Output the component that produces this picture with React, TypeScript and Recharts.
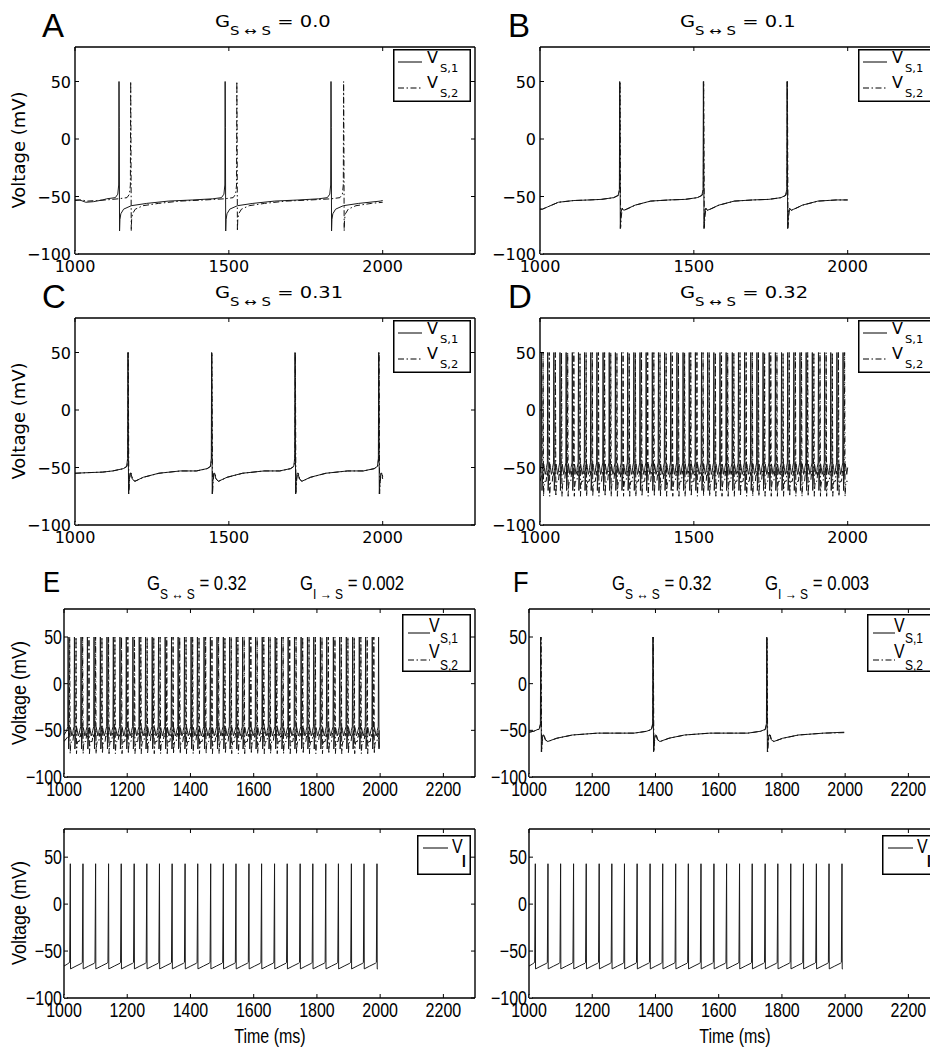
import React from 'react';
import { LineChart, Line, XAxis, YAxis, Legend } from 'recharts';

type P = [number, number];

// ---- values (time in ms, voltage in mV) ----
const xTicksWide = [1000, 1500, 2000];
const xTicksNarrow = [1000, 1200, 1400, 1600, 1800, 2000, 2200];
const yTicks = [-100, -50, 0, 50];

// A: G(S<->S) = 0.0 -- the two cells fire out of phase
const aSpikes1 = [1143, 1488, 1832];
const aSpikes2 = [1181, 1526, 1873];
const aLead1: P[] = [[1000, -53], [1015, -53], [1035, -55], [1060, -54.5], [1090, -53]];
const aLead2: P[] = [[1000, -53.5], [1020, -53], [1040, -54], [1070, -53.5], [1100, -53]];
const aShape: P[] = [[-40, -52], [-12, -51], [-4, -48], [-1, -40], [0, 50], [0.8, 10], [1.8, -80], [3, -70], [6, -65], [15, -61], [40, -58], [90, -56], [160, -54], [240, -53]];

// B: G(S<->S) = 0.1
const bSpikes1 = [1259, 1531, 1803];
const bSpikes2 = [1260, 1532, 1804];
const bLead: P[] = [[1000, -61], [1008, -61], [1025, -59], [1060, -55], [1110, -53.5], [1160, -53]];
const bShape1: P[] = [[-60, -52.5], [-20, -51], [-5, -49], [-1, -44], [0, 50], [0.8, 10], [2, -78], [4, -64], [8, -60], [13, -62], [22, -61], [50, -57.5], [100, -54], [160, -53]];
const bShape2: P[] = [[-60, -52.5], [-20, -51], [-5, -49], [-1, -44], [0, 50], [0.8, 10], [2, -77], [4, -68], [7, -61], [13, -62], [22, -61], [50, -57.5], [100, -54], [160, -53]];

// C: G(S<->S) = 0.31
const cSpikes1 = [1172, 1444, 1715, 1987];
const cSpikes2 = [1173, 1445, 1716, 1988];
const cLead: P[] = [[1000, -55], [1040, -54.5], [1090, -54]];
const cShape: P[] = [[-50, -53], [-15, -51], [-4, -49], [-1, -42], [0, 50], [0.8, 10], [2, -73], [4, -62], [7, -55], [10, -55], [14, -60], [22, -62], [50, -58.5], [100, -55], [170, -53]];

// D: G(S<->S) = 0.32 -- fast alternating firing
const dSpikes1 = [1005, 1025, 1045, 1065, 1085, 1105, 1125, 1145, 1165, 1185, 1205, 1225, 1245, 1265, 1285, 1305, 1325, 1345, 1365, 1385, 1405, 1425, 1445, 1465, 1485, 1505, 1525, 1545, 1565, 1585, 1605, 1625, 1645, 1665, 1685, 1705, 1725, 1745, 1765, 1785, 1805, 1825, 1845, 1865, 1885, 1905, 1925, 1945, 1965, 1985];
const dSpikes2 = [1010, 1030, 1050, 1070, 1090, 1110, 1130, 1150, 1170, 1190, 1210, 1230, 1250, 1270, 1290, 1310, 1330, 1350, 1370, 1390, 1410, 1430, 1450, 1470, 1490, 1510, 1530, 1550, 1570, 1590, 1610, 1630, 1650, 1670, 1690, 1710, 1730, 1750, 1770, 1790, 1810, 1830, 1850, 1870, 1890, 1910, 1930, 1950, 1970, 1990];
const fastShape1: P[] = [[-4, -50], [-1, -46], [0, 50], [0.7, 0], [1.4, -70], [3, -60], [5, -52], [7, -47], [9, -50], [12, -56], [15, -53]];
const fastShape2: P[] = [[-4, -56], [-1, -49], [0, 50], [0.7, 0], [1.5, -75], [3, -66], [5, -62], [10, -62], [13, -53], [15, -57]];

// E: G(S<->S) = 0.32, G(I->S) = 0.002
const eSpikes1 = [1013, 1033, 1054, 1074, 1095, 1115, 1136, 1156, 1177, 1197, 1218, 1238, 1258, 1279, 1299, 1320, 1340, 1361, 1381, 1402, 1422, 1443, 1463, 1484, 1504, 1524, 1545, 1565, 1586, 1606, 1627, 1647, 1668, 1688, 1709, 1729, 1750, 1770, 1790, 1811, 1831, 1852, 1872, 1893, 1913, 1934, 1954, 1975, 1995];
const eSpikes2 = [1018, 1038, 1059, 1079, 1100, 1120, 1141, 1161, 1182, 1202, 1223, 1243, 1263, 1284, 1304, 1325, 1345, 1366, 1386, 1407, 1427, 1448, 1468, 1489, 1509, 1529, 1550, 1570, 1591, 1611, 1632, 1652, 1673, 1693, 1714, 1734, 1755, 1775, 1795, 1816, 1836, 1857, 1877, 1898, 1918, 1939, 1959, 1980];

// F: G(S<->S) = 0.32, G(I->S) = 0.003
const fSpikes1 = [1037, 1392, 1752];
const fSpikes2 = [1038, 1393, 1753];
const fLead: P[] = [[1000, -52], [1015, -51], [1028, -49]];
const fShape: P[] = [[-60, -53], [-20, -51], [-5, -49], [-1, -43], [0, 50], [0.8, 10], [2, -73], [4, -62], [7, -55], [10, -55], [14, -60], [22, -62], [50, -58.5], [100, -55], [180, -53]];

// interneuron V_I (same in E and F)
const iSpikes = [1020, 1060, 1100, 1141, 1181, 1222, 1262, 1302, 1342, 1383, 1423, 1464, 1504, 1544, 1585, 1625, 1666, 1706, 1747, 1787, 1828, 1868, 1909, 1949, 1990];
const iLead: P[] = [[1000, -66], [1010, -64]];
const iShape: P[] = [[-2, -62], [0, 43], [0.7, -69], [18, -66], [36, -63]];

const legendS = ['S,1', 'S,2'];
const legendI = ['I'];

// ---- helpers ----
function trace(lead: P[], spikes: number[], shape: P[], end: P) {
  const pts: P[] = [...lead];
  spikes.forEach((s) => {
    shape.forEach(([dt, v]) => {
      const t = s + dt;
      if (t > pts[pts.length - 1][0] && t < end[0]) pts.push([t, v]);
    });
  });
  pts.push(end);
  return pts.map(([t, v]) => ({ t, v }));
}

const DASHDOT = '6 2.5 1.5 2.5';
const WIDE = { fontFamily: "'DejaVu Sans', sans-serif", fontSize: 16 };
const NARROW = { fontFamily: "'Liberation Sans', Arial, sans-serif", fontSize: 20 };
const NX = 0.8; // horizontal squeeze for the condensed lettering in E/F
const fmt = (v: number) => (v < 0 ? '\u2212' + Math.abs(v) : String(v));

const BottomTick = ({ x, y, payload, narrow }: any) => (
  <g>
    <line x1={x} y1={y} x2={x} y2={y - 4} stroke="#000" />
    <text transform={`translate(${x},${y + (narrow ? 19 : 18)}) scale(${narrow ? NX : 1},1)`} textAnchor="middle" fill="#000" {...(narrow ? NARROW : WIDE)}>
      {fmt(payload.value)}
    </text>
  </g>
);
const LeftTick = ({ x, y, payload, narrow }: any) => (
  <g>
    <line x1={x} y1={y} x2={x + 4} y2={y} stroke="#000" />
    <text transform={`translate(${x - (narrow ? 2 : 4)},${y + (narrow ? 7 : 6)}) scale(${narrow ? NX : 1},1)`} textAnchor="end" fill="#000" {...(narrow ? NARROW : WIDE)}>
      {fmt(payload.value)}
    </text>
  </g>
);
const TopTick = ({ x, y }: any) => <line x1={x} y1={y} x2={x} y2={y + 4} stroke="#000" />;
const RightTick = ({ x, y }: any) => <line x1={x} y1={y} x2={x - 4} y2={y} stroke="#000" />;

const AXIS = { stroke: '#000', strokeWidth: 1.4 };

function LegendBox({ labels, narrow, w, h }: { labels: string[]; narrow?: boolean; w: number; h: number }) {
  const single = labels.length === 1;
  return (
    <svg width={w} height={h} style={{ display: 'block' }}>
      <rect x={0.75} y={0.75} width={w - 1.5} height={h - 1.5} fill="#fff" stroke="#000" strokeWidth={1.5} />
      {labels.map((s, i) => {
        if (!narrow) {
          return (
            <g key={s}>
              <line x1={5} x2={29} y1={13 + 26 * i} y2={13 + 26 * i} stroke="#000" strokeDasharray={i ? DASHDOT : undefined} />
              <text x={34} y={14 + 25 * i} fontFamily="'DejaVu Sans', sans-serif" fontSize={16}>V</text>
              <text transform={`translate(47,${23 + 25 * i}) scale(1.05,1)`} fontFamily="'DejaVu Sans', sans-serif" fontSize={11}>{s}</text>
            </g>
          );
        }
        if (single) {
          return (
            <g key={s}>
              <line x1={6} x2={31} y1={13} y2={13} stroke="#000" />
              <text transform={`translate(35,18) scale(${NX},1)`} {...NARROW}>V</text>
              <text transform={`translate(45,32) scale(${NX},1)`} {...NARROW} fontSize={17} fontWeight="bold">{s}</text>
            </g>
          );
        }
        return (
          <g key={s}>
            <line x1={6} x2={28} y1={19 + 27 * i} y2={19 + 27 * i} stroke="#000" strokeDasharray={i ? DASHDOT : undefined} />
            <text transform={`translate(27,${18 + 26 * i}) scale(${NX},1)`} {...NARROW}>V</text>
            <text transform={`translate(38,${29 + 27 * i}) scale(${NX},1)`} {...NARROW} fontSize={15}>{s}</text>
          </g>
        );
      })}
    </svg>
  );
}

type Series = { data: { t: number; v: number }[]; dash?: boolean };

interface PanelProps {
  x: number;
  y: number;
  w: number;
  h: number;
  xTicks: number[];
  narrow?: boolean;
  lines: Series[];
  labels: string[];
  lx: number;
  ly: number;
  lw: number;
  lh: number;
}

const YW = 70;
const MT = 10;
const XH = 30;

function Panel({ x, y, w, h, xTicks, narrow, lines, labels, lx, ly, lw, lh }: PanelProps) {
  const left = x - YW;
  const top = y - MT;
  // the top x axis and right y axis are 1px wide so Recharts still draws them (box frame + inward ticks)
  return (
    <div style={{ position: 'absolute', left, top }}>
      <LineChart width={YW + w + 1} height={MT + h + XH} margin={{ top: MT - 1, right: 0, bottom: 0, left: 0 }}>
        <XAxis xAxisId="b" dataKey="t" type="number" domain={[1000, 2300]} allowDataOverflow ticks={xTicks} interval={0}
          tickSize={0} tickMargin={0} tickLine={false} height={XH} axisLine={AXIS}
          tick={(p: any) => <BottomTick {...p} narrow={narrow} />} />
        <XAxis xAxisId="t" orientation="top" dataKey="t" type="number" domain={[1000, 2300]} allowDataOverflow ticks={xTicks} interval={0}
          tickSize={0} tickMargin={0} tickLine={false} height={1} axisLine={AXIS} tick={TopTick} />
        <YAxis yAxisId="l" type="number" domain={[-100, 80]} allowDataOverflow ticks={yTicks} interval={0}
          tickSize={0} tickMargin={0} tickLine={false} width={YW} axisLine={AXIS}
          tick={(p: any) => <LeftTick {...p} narrow={narrow} />} />
        <YAxis yAxisId="r" orientation="right" type="number" domain={[-100, 80]} allowDataOverflow ticks={yTicks} interval={0}
          tickSize={0} tickMargin={0} tickLine={false} width={1} axisLine={AXIS} tick={RightTick} />
        {lines.map((l, i) => (
          <Line key={i} xAxisId="b" yAxisId="l" data={l.data} dataKey="v" type="linear" dot={false}
            stroke={l.dash ? '#111' : '#1a1a1a'} strokeWidth={1} strokeDasharray={l.dash ? DASHDOT : undefined}
            isAnimationActive={false} />
        ))}
        <Line xAxisId="t" yAxisId="r" data={[{ t: 1000, v: -100 }]} dataKey="v" stroke="none" dot={false}
          legendType="none" isAnimationActive={false} />
        <Legend layout="vertical" align="center" verticalAlign="middle"
          content={() => <LegendBox labels={labels} narrow={narrow} w={lw} h={lh} />}
          wrapperStyle={{ left: lx - left, top: ly - top, width: lw, height: lh }} />
      </LineChart>
    </div>
  );
}

const font = (narrow?: boolean, size = 20) =>
  narrow ? { fontFamily: NARROW.fontFamily, fontSize: size } : { fontFamily: WIDE.fontFamily, fontSize: size };

function Title({ x, y, g, sub, val, narrow }: { x: number; y: number; g: string; sub: string; val: string; narrow?: boolean }) {
  const sx = narrow ? NX : 1.3;
  const big = narrow ? 21 : 15;
  const small = narrow ? 15 : 11.5;
  const dy = narrow ? 9 : 8;
  return (
    <text transform={`translate(${x},${y}) scale(${sx},1)`} {...font(narrow, big)} fill="#000">
      {g}
      <tspan dy={dy} fontSize={small}>{sub}</tspan>
      <tspan dy={-dy}>{' ' + val}</tspan>
    </text>
  );
}

export default function App() {
  const sA = { w: 400, h: 207 };
  const sE = { w: 411, h: 168 };
  const sI = { w: 411, h: 169 };
  const legAD = { lw: 78, lh: 53 };
  const legEF = { lw: 69, lh: 58 };
  const legI = { lw: 54, lh: 40 };

  const panels: PanelProps[] = [
    { x: 75, y: 47, ...sA, xTicks: xTicksWide, labels: legendS, lx: 393, ly: 49, ...legAD,
      lines: [{ data: trace(aLead1, aSpikes1, aShape, [2000, -53.5]) }, { data: trace(aLead2, aSpikes2, aShape, [2000, -55]), dash: true }] },
    { x: 540, y: 47, ...sA, xTicks: xTicksWide, labels: legendS, lx: 858, ly: 49, ...legAD,
      lines: [{ data: trace(bLead, bSpikes1, bShape1, [2000, -53]) }, { data: trace(bLead, bSpikes2, bShape2, [2000, -53]), dash: true }] },
    { x: 75, y: 318, ...sA, xTicks: xTicksWide, labels: legendS, lx: 393, ly: 320, ...legAD,
      lines: [{ data: trace(cLead, cSpikes1, cShape, [2000, -60]) }, { data: trace(cLead, cSpikes2, cShape, [2000, -58]), dash: true }] },
    { x: 540, y: 318, ...sA, xTicks: xTicksWide, labels: legendS, lx: 858, ly: 320, ...legAD,
      lines: [{ data: trace([[1000, -55], [1002, -50]], dSpikes1, fastShape1, [2000, -50]) }, { data: trace([[1000, -62], [1006, -56]], dSpikes2, fastShape2, [2000, -62]), dash: true }] },
    { x: 64, y: 609, ...sE, xTicks: xTicksNarrow, narrow: true, labels: legendS, lx: 402, ly: 614, ...legEF,
      lines: [{ data: trace([[1000, -55], [1009, -50]], eSpikes1, fastShape1, [1997, -50]) }, { data: trace([[1000, -62], [1014, -56]], eSpikes2, fastShape2, [1997, -70]), dash: true }] },
    { x: 529, y: 609, ...sE, xTicks: xTicksNarrow, narrow: true, labels: legendS, lx: 867, ly: 614, ...legEF,
      lines: [{ data: trace(fLead, fSpikes1, fShape, [1997, -52]) }, { data: trace(fLead, fSpikes2, fShape, [1997, -52.5]), dash: true }] },
    { x: 64, y: 829, ...sI, xTicks: xTicksNarrow, narrow: true, labels: legendI, lx: 417, ly: 835, ...legI,
      lines: [{ data: trace(iLead, iSpikes, iShape, [1993, -69]) }] },
    { x: 529, y: 829, ...sI, xTicks: xTicksNarrow, narrow: true, labels: legendI, lx: 882, ly: 835, ...legI,
      lines: [{ data: trace(iLead, iSpikes, iShape, [1993, -69]) }] },
  ];

  const letters = [
    { ch: 'A', x: 42, y: 37 }, { ch: 'B', x: 508, y: 37 },
    { ch: 'C', x: 42, y: 308 }, { ch: 'D', x: 508, y: 308 },
    { ch: 'E', x: 43, y: 592, narrow: true }, { ch: 'F', x: 513, y: 592, narrow: true },
  ];

  return (
    <div style={{ position: 'absolute', left: 0, top: 0, width: 930, height: 1048, overflow: 'hidden', background: '#fff' }}>
      {panels.map((p, i) => <Panel key={i} {...p} />)}
      <svg width={930} height={1048} style={{ position: 'absolute', left: 0, top: 0, pointerEvents: 'none' }}>
        {letters.map((l) => (
          <text key={l.ch} transform={`translate(${l.x},${l.y}) scale(${l.narrow ? 0.85 : 1},1)`}
            fontFamily="'Liberation Sans', Arial, sans-serif" fontSize={l.narrow ? 30 : 33} fill="#000">{l.ch}</text>
        ))}
        <Title x={215} y={27} g="G" sub={'S \u2194 S'} val="= 0.0" />
        <Title x={680} y={27} g="G" sub={'S \u2194 S'} val="= 0.1" />
        <Title x={215} y={298} g="G" sub={'S \u2194 S'} val="= 0.31" />
        <Title x={680} y={298} g="G" sub={'S \u2194 S'} val="= 0.32" />
        <Title x={147} y={590} g="G" sub={'S \u2194 S'} val="= 0.32" narrow />
        <Title x={300} y={590} g="G" sub={'I \u2192 S'} val="= 0.002" narrow />
        <Title x={612} y={590} g="G" sub={'S \u2194 S'} val="= 0.32" narrow />
        <Title x={765} y={590} g="G" sub={'I \u2192 S'} val="= 0.003" narrow />
        {[150, 421].map((cy) => (
          <text key={cy} transform={`translate(25,${cy}) rotate(-90)`} textAnchor="middle" {...font(false, 18)} fill="#000">Voltage (mV)</text>
        ))}
        {[693, 913].map((cy) => (
          <text key={cy} transform={`translate(26,${cy}) rotate(-90) scale(0.9,1)`} textAnchor="middle" {...font(true, 20)} fill="#000">Voltage (mV)</text>
        ))}
        {[270, 735].map((cx) => (
          <text key={cx} transform={`translate(${cx},1043) scale(${NX},1)`} textAnchor="middle" {...font(true, 20)} fill="#000">Time (ms)</text>
        ))}
      </svg>
    </div>
  );
}
